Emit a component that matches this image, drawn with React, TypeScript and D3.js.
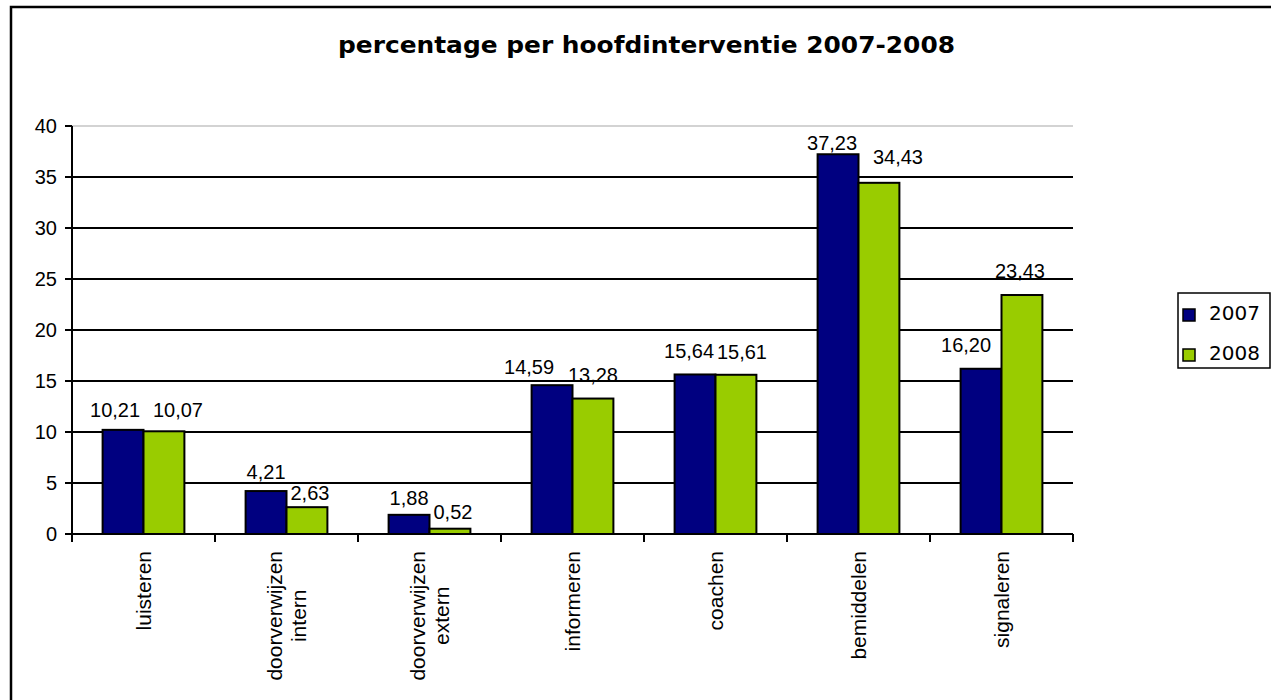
import React, { useEffect, useRef } from "react";
import * as d3 from "d3";

const title = "percentage per hoofdinterventie 2007-2008";
const categories: string[][] = [
  ["luisteren"],
  ["doorverwijzen", "intern"],
  ["doorverwijzen", "extern"],
  ["informeren"],
  ["coachen"],
  ["bemiddelen"],
  ["signaleren"],
];
const seriesNames = ["2007", "2008"];
const values2007 = [10.21, 4.21, 1.88, 14.59, 15.64, 37.23, 16.2];
const values2008 = [10.07, 2.63, 0.52, 13.28, 15.61, 34.43, 23.43];
const yTicks = [0, 5, 10, 15, 20, 25, 30, 35, 40];
const colors = ["#000080", "#99CC00"];

// label nudges (dx, baseline offset from bar top) as placed in the original
const labelDx = [
  [-8, 0, 0, -23, -6, -6, -15],
  [14, 3, 3, 0, 6, 19, -2],
];
const labelDy = [
  [-13, -12, -10, -11, -16, -4, -17],
  [-14, -7, -10, -17, -16, -19, -17],
];

const W = 1271;
const H = 700;

export default function App() {
  const ref = useRef<SVGSVGElement | null>(null);

  useEffect(() => {
    const svg = d3.select(ref.current);
    svg.selectAll("*").remove();

    const series = [values2007, values2008];
    const keys = categories.map((c) => c.join(" "));
    const plot = { left: 72, right: 1073, top: 126, bottom: 534 };

    const x = d3
      .scaleBand<string>()
      .domain(keys)
      .range([plot.left, plot.right])
      .paddingInner(0.428)
      .paddingOuter(0.214);
    const xs = d3
      .scaleBand<string>()
      .domain(seriesNames)
      .range([0, x.bandwidth()]);
    const y = d3.scaleLinear().domain([0, 40]).range([plot.bottom, plot.top]);
    const step = x.step();

    // outer border
    svg
      .append("rect")
      .attr("x", 11)
      .attr("y", 7)
      .attr("width", W + 10)
      .attr("height", H + 10)
      .attr("fill", "white")
      .attr("stroke", "black")
      .attr("stroke-width", 2.5);

    // title
    svg
      .append("text")
      .attr("x", 646.5)
      .attr("y", 53)
      .attr("text-anchor", "middle")
      .attr("font-family", "Tahoma, 'DejaVu Sans', sans-serif")
      .attr("font-weight", "bold")
      .attr("font-size", 23)
      .attr("textLength", 617)
      .attr("lengthAdjust", "spacingAndGlyphs")
      .text(title);

    // gridlines
    svg
      .append("g")
      .selectAll("line")
      .data(yTicks.filter((t) => t > 0))
      .join("line")
      .attr("x1", plot.left)
      .attr("x2", plot.right)
      .attr("y1", (d) => y(d))
      .attr("y2", (d) => y(d))
      .attr("stroke", (d) => (d === 40 ? "#c4c4c4" : "black"))
      .attr("stroke-width", (d) => (d === 40 ? 1.5 : 2));

    // bars
    const g = svg.append("g");
    series.forEach((vals, si) => {
      g.append("g")
        .selectAll("rect")
        .data(vals)
        .join("rect")
        .attr("x", (_, i) => (x(keys[i]) as number) + (xs(seriesNames[si]) as number))
        .attr("width", xs.bandwidth())
        .attr("y", (d) => y(d))
        .attr("height", (d) => y(0) - y(d))
        .attr("fill", colors[si])
        .attr("stroke", "black")
        .attr("stroke-width", 2);
    });

    // y axis
    svg
      .append("line")
      .attr("x1", plot.left)
      .attr("x2", plot.left)
      .attr("y1", plot.top)
      .attr("y2", plot.bottom)
      .attr("stroke", "black")
      .attr("stroke-width", 2);
    const yt = svg.append("g");
    yt.selectAll("line")
      .data(yTicks)
      .join("line")
      .attr("x1", plot.left - 7)
      .attr("x2", plot.left)
      .attr("y1", (d) => y(d))
      .attr("y2", (d) => y(d))
      .attr("stroke", "black")
      .attr("stroke-width", 2);
    yt.selectAll("text")
      .data(yTicks)
      .join("text")
      .attr("x", 57)
      .attr("y", (d) => y(d))
      .attr("dy", "0.36em")
      .attr("text-anchor", "end")
      .attr("font-family", "Arial, 'Liberation Sans', sans-serif")
      .attr("font-size", 20)
      .text((d) => String(d));

    // x axis
    svg
      .append("line")
      .attr("x1", plot.left)
      .attr("x2", plot.right)
      .attr("y1", plot.bottom)
      .attr("y2", plot.bottom)
      .attr("stroke", "black")
      .attr("stroke-width", 2);
    svg
      .append("g")
      .selectAll("line")
      .data(d3.range(keys.length + 1))
      .join("line")
      .attr("x1", (i) => plot.left + i * step)
      .attr("x2", (i) => plot.left + i * step)
      .attr("y1", plot.bottom)
      .attr("y2", plot.bottom + 8)
      .attr("stroke", "black")
      .attr("stroke-width", 2);

    // category labels (rotated)
    const catTop = 551;
    const lineH = 24;
    categories.forEach((lines, i) => {
      const cx = (x(keys[i]) as number) + x.bandwidth() / 2;
      const grp = svg
        .append("g")
        .attr("transform", `translate(${cx},${catTop}) rotate(-90)`);
      const texts = lines.map((ln, li) =>
        grp
          .append("text")
          .attr("y", (li - (lines.length - 1) / 2) * lineH)
          .attr("dy", "0.36em")
          .attr("font-family", "Arial, 'Liberation Sans', sans-serif")
          .attr("font-size", 21)
          .text(ln)
      );
      const lens = texts.map((t) => (t.node() as SVGTextElement).getComputedTextLength());
      const maxLen = Math.max(...lens);
      texts.forEach((t) => t.attr("x", -maxLen / 2).attr("text-anchor", "middle"));
    });

    // value labels
    series.forEach((vals, si) => {
      svg
        .append("g")
        .selectAll("text")
        .data(vals)
        .join("text")
        .attr(
          "x",
          (_, i) =>
            (x(keys[i]) as number) +
            (xs(seriesNames[si]) as number) +
            xs.bandwidth() / 2 +
            labelDx[si][i]
        )
        .attr("y", (d, i) => y(d) + labelDy[si][i])
        .attr("text-anchor", "middle")
        .attr("font-family", "Arial, 'Liberation Sans', sans-serif")
        .attr("font-size", 20)
        .text((d) => d.toFixed(2).replace(".", ","));
    });

    // legend
    const leg = svg.append("g");
    leg
      .append("rect")
      .attr("x", 1178)
      .attr("y", 293)
      .attr("width", 92)
      .attr("height", 75)
      .attr("fill", "white")
      .attr("stroke", "black")
      .attr("stroke-width", 1.5);
    seriesNames.forEach((name, si) => {
      const by = 320 + si * 40;
      leg
        .append("rect")
        .attr("x", 1183)
        .attr("y", by - 11)
        .attr("width", 12)
        .attr("height", 12)
        .attr("fill", colors[si])
        .attr("stroke", "black")
        .attr("stroke-width", 1.5);
      leg
        .append("text")
        .attr("x", 1209)
        .attr("y", by)
        .attr("font-family", "Tahoma, 'DejaVu Sans', sans-serif")
        .attr("font-size", 20)
        .text(name);
    });
  }, []);

  return (
    <svg
      ref={ref}
      width={W}
      height={H}
      style={{ position: "absolute", left: 0, top: 0, display: "block" }}
    />
  );
}
